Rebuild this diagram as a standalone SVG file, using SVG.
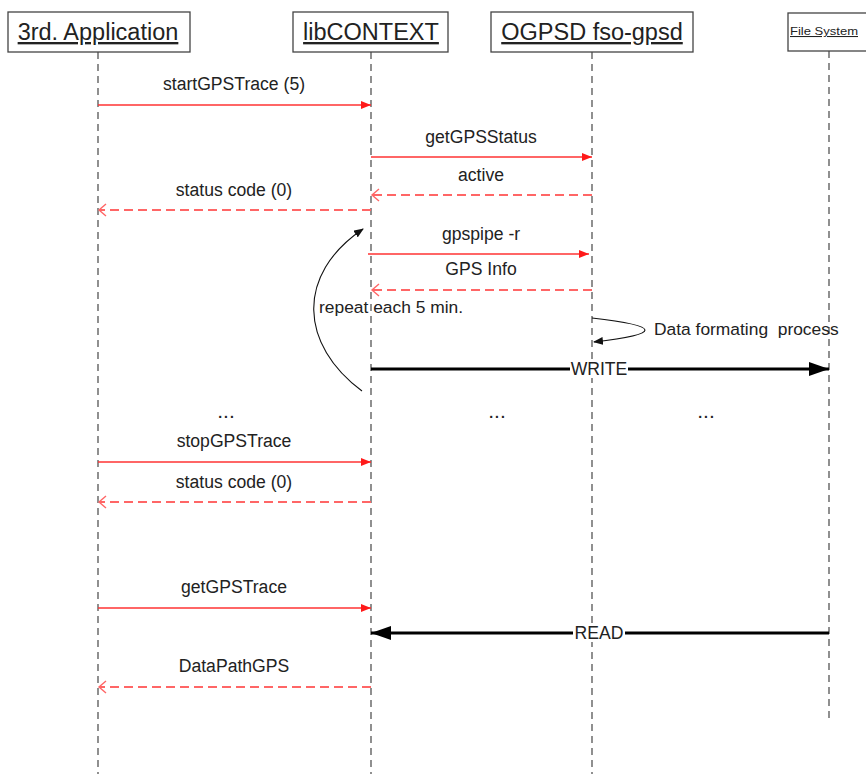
<svg xmlns="http://www.w3.org/2000/svg" width="866" height="774" viewBox="0 0 866 774">
  <defs>
    <style>
      text { font-family: "Liberation Sans", Arial, sans-serif; fill: #222; }
      .head { font-size: 23.5px; text-decoration: underline; text-anchor: middle; }
      .small { font-size: 10.5px; text-decoration: underline; text-anchor: middle; }
      .lbl { font-size: 17.6px; text-anchor: middle; }
      .dots { font-size: 21px; text-anchor: middle; }
      .note { font-size: 17.4px; white-space: pre; }
      .box { fill: #fff; stroke: #444; stroke-width: 1.3; }
      .life { stroke: #555; stroke-width: 1.3; stroke-dasharray: 7 5; fill: none; }
      .call { stroke: #ff3333; stroke-width: 1.6; fill: none; marker-end: url(#solidRed); }
      .ret { stroke: #ff6666; stroke-width: 1.8; stroke-dasharray: 9 5; fill: none; marker-end: url(#openRed); }
      .bold { stroke: #000; stroke-width: 3; fill: none; marker-end: url(#bigBlack); }
      .curve { stroke: #111; stroke-width: 1.1; fill: none; marker-end: url(#thinBlack); }
    </style>
    <marker id="solidRed" viewBox="0 0 10 8" refX="10" refY="4" markerWidth="10" markerHeight="8" markerUnits="userSpaceOnUse" orient="auto">
      <path d="M0,0 L10,4 L0,8 Z" fill="#ff1a1a"/>
    </marker>
    <marker id="openRed" viewBox="0 0 10 14" refX="8" refY="7" markerWidth="10" markerHeight="14" markerUnits="userSpaceOnUse" orient="auto">
      <path d="M1,1 L8,7 L1,13" fill="none" stroke="#ff6666" stroke-width="1.4"/>
    </marker>
    <marker id="bigBlack" viewBox="0 0 20 14" refX="20" refY="7" markerWidth="20" markerHeight="14" markerUnits="userSpaceOnUse" orient="auto">
      <path d="M0,0 L20,7 L0,14 Z" fill="#000"/>
    </marker>
    <marker id="thinBlack" viewBox="0 0 10 8" refX="9" refY="4" markerWidth="10" markerHeight="8" markerUnits="userSpaceOnUse" orient="auto">
      <path d="M0,0 L10,4 L0,8 Z" fill="#111"/>
    </marker>
  </defs>

  <rect width="866" height="774" fill="#fff"/>

  <!-- participants -->
  <g id="app">
    <line class="life" x1="98" y1="52" x2="98" y2="774"/>
    <rect class="box" x="8" y="12" width="182" height="40"/>
    <text class="head" x="98" y="40">3rd. Application</text>
  </g>
  <g id="libcontext">
    <line class="life" x1="371" y1="52" x2="371" y2="774"/>
    <rect class="box" x="293" y="12" width="155" height="40"/>
    <text class="head" x="371" y="40">libCONTEXT</text>
  </g>
  <g id="ogpsd">
    <line class="life" x1="592" y1="52" x2="592" y2="774"/>
    <rect class="box" x="491" y="12" width="202" height="40"/>
    <text class="head" x="592" y="40">OGPSD fso-gpsd</text>
  </g>
  <g id="filesystem">
    <line class="life" x1="829" y1="51" x2="829" y2="723"/>
    <rect class="box" x="788" y="13" width="82" height="38"/>
    <text class="small" x="824" y="35" textLength="68" lengthAdjust="spacingAndGlyphs">File System</text>
  </g>

  <!-- messages -->
  <g id="connectors">
    <line class="call" x1="98" y1="105" x2="371" y2="105"/>
    <line class="call" x1="371" y1="157" x2="592" y2="157"/>
    <line class="ret" x1="592" y1="195" x2="372" y2="195"/>
    <line class="ret" x1="371" y1="210" x2="99" y2="210"/>
    <line class="call" x1="368" y1="254" x2="589" y2="254"/>
    <line class="ret" x1="592" y1="290" x2="372" y2="290"/>
    <path class="curve" d="M362,391 C300,345 295,275 363,229"/>
    <path class="curve" d="M592,318 Q697,330 594,342"/>
    <line class="bold" x1="371" y1="369" x2="829" y2="369"/>
    <line class="call" x1="98" y1="462" x2="371" y2="462"/>
    <line class="ret" x1="371" y1="502" x2="99" y2="502"/>
    <line class="call" x1="98" y1="608" x2="371" y2="608"/>
    <line class="bold" x1="829" y1="633" x2="371" y2="633"/>
    <line class="ret" x1="371" y1="687" x2="99" y2="687"/>
  </g>

  <!-- message labels -->
  <g id="labels">
    <text class="lbl" x="234" y="90">startGPSTrace (5)</text>
    <text class="lbl" x="481" y="143">getGPSStatus</text>
    <text class="lbl" x="481" y="181">active</text>
    <text class="lbl" x="234" y="196">status code (0)</text>
    <text class="lbl" x="481" y="240">gpspipe -r</text>
    <text class="lbl" x="481" y="275">GPS Info</text>
    <text class="note" x="319" y="313">repeat each 5 min.</text>
    <text class="note" x="654" y="335" xml:space="preserve">Data formating  process</text>
    <rect x="570" y="360" width="58" height="18" fill="#fff"/>
    <text class="lbl" x="599" y="375">WRITE</text>
    <text class="dots" x="226" y="418">...</text>
    <text class="dots" x="497" y="418">...</text>
    <text class="dots" x="706" y="418">...</text>
    <text class="lbl" x="234" y="447">stopGPSTrace</text>
    <text class="lbl" x="234" y="488">status code (0)</text>
    <text class="lbl" x="234" y="593">getGPSTrace</text>
    <rect x="573" y="624" width="52" height="18" fill="#fff"/>
    <text class="lbl" x="599" y="639">READ</text>
    <text class="lbl" x="234" y="672">DataPathGPS</text>
  </g>
</svg>
